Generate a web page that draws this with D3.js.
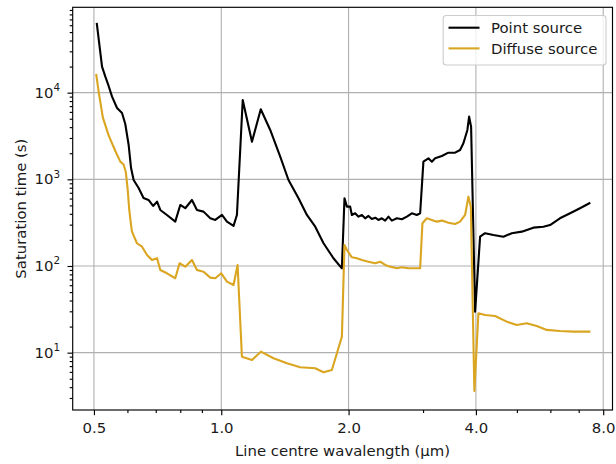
<!DOCTYPE html>
<html>
<head>
<meta charset="utf-8">
<script src="https://cdn.jsdelivr.net/npm/d3@7"></script>
<style>
  html, body { margin: 0; padding: 0; background: #fff; }
  svg { display: block; font-family: "DejaVu Sans", sans-serif; }
</style>
</head>
<body>
<svg id="chart" width="616" height="464"></svg>
<script>
// Line centre wavelength (µm) and saturation time (s) for each source type
const pointWavelength = [0.508, 0.5225, 0.532, 0.5416, 0.5518, 0.567, 0.5826, 0.593, 0.604, 0.612,
  0.6206, 0.6377, 0.655, 0.673, 0.690, 0.705, 0.7176, 0.744, 0.7785, 0.800,
  0.822, 0.8526, 0.876, 0.908, 0.942, 0.968, 1.004, 1.0315, 1.069, 1.089,
  1.124, 1.182, 1.240, 1.3055, 1.3785, 1.442, 1.523, 1.594, 1.668, 1.745,
  1.842, 1.9285, 1.956, 1.982, 2.0175, 2.036, 2.073, 2.111, 2.150, 2.189,
  2.229, 2.270, 2.312, 2.353, 2.397, 2.441, 2.485, 2.531, 2.601, 2.673,
  2.747, 2.822, 2.900, 2.953, 3.006, 3.089, 3.147, 3.204, 3.323, 3.444,
  3.572, 3.670, 3.737, 3.819, 3.855, 3.897, 3.983, 4.0925, 4.205, 4.400,
  4.646, 4.863, 5.135, 5.469, 5.775, 5.99, 6.32, 6.68, 7.05, 7.42];
const pointTime = [62000, 20000, 15300, 11950, 8990, 6660, 5830, 4350, 2490, 1350,
  983, 795, 610, 578, 493, 553, 443, 388, 325, 506,
  464, 578, 443, 424, 355, 340, 388, 325, 290, 388,
  8240, 2720, 6430, 3710, 1830, 983, 605, 388, 284, 183,
  123, 94, 605, 484, 484, 388, 406, 371, 388, 355,
  378, 349, 361, 340, 355, 334, 371, 334, 355, 346,
  371, 406, 388, 406, 1600, 1750, 1600, 1750, 1860, 2030,
  2030, 2180, 2610, 3710, 5290, 4050, 29.7, 218, 239, 228,
  218, 239, 249, 277, 284, 297, 355, 406, 464, 530];

const diffuseWavelength = [0.5065, 0.513, 0.5248, 0.5416, 0.5617, 0.5772, 0.5876, 0.5947, 0.601, 0.606,
  0.612, 0.615, 0.632, 0.6496, 0.6675, 0.6859, 0.705, 0.7176, 0.744, 0.7785,
  0.797, 0.822, 0.8526, 0.876, 0.908, 0.942, 0.968, 1.0, 1.0315, 1.069,
  1.093, 1.119, 1.182, 1.241, 1.329, 1.430, 1.537, 1.668, 1.745, 1.826,
  1.877, 1.9285, 1.956, 1.982, 2.036, 2.092, 2.150, 2.229, 2.312, 2.375,
  2.441, 2.508, 2.601, 2.673, 2.771, 2.874, 2.953, 2.990, 3.062, 3.147,
  3.234, 3.323, 3.444, 3.572, 3.670, 3.772, 3.840, 3.891, 3.967, 4.055,
  4.205, 4.441, 4.732, 4.997, 5.276, 5.572, 5.883, 6.32, 6.80, 7.42];
const diffuseTime = [16000, 10270, 5180, 3210, 2125, 1600, 1485, 1216, 754, 443,
  297, 249, 183, 167, 134, 117, 123, 90, 82.4, 72.2,
  107.5, 98.3, 117, 90, 86, 73.4, 72.2, 82.4, 66, 60.4,
  102.8, 9.0, 8.24, 10.27, 8.62, 7.55, 6.79, 6.61, 5.94, 6.32,
  9.84, 15.3, 175, 153, 126, 123, 117, 112, 107.5, 112,
  102.8, 98.3, 94.2, 96.7, 94.2, 94.2, 94.2, 311, 355, 340,
  325, 334, 316, 305, 325, 388, 631, 484, 3.61, 28.5,
  27.2, 26.5, 22.8, 20.9, 21.8, 20.3, 18.3, 17.8, 17.5, 17.5];

const xMajorTicks = [0.5, 1.0, 2.0, 4.0, 8.0];
const xMinorTicks = [0.6, 0.7, 0.8, 0.9, 3, 5, 6, 7];
const yMajorTicks = [10, 100, 1000, 10000];
const seriesNames = ["Point source", "Diffuse source"];
const seriesColors = ["#000000", "#daa520"];

const svg = d3.select("#chart");
const plotLeft = 72.7, plotRight = 612.5, plotTop = 7.3, plotBottom = 410;
const fontSize = 14.9;
const textColor = "#1a1a1a";

const x = d3.scaleLog().domain([0.4454, 8.415]).range([plotLeft, plotRight]);
const y = d3.scaleLog().domain([2.18, 96600]).range([plotBottom, plotTop]);

// minor y ticks at 2..9 × each decade inside the domain
const yMinorTicks = [];
for (let e = 0; e <= 4; e++) {
  for (let m = 2; m <= 9; m++) {
    const v = m * Math.pow(10, e);
    if (v >= y.domain()[0] && v <= y.domain()[1]) yMinorTicks.push(v);
  }
}

// grid lines at major ticks
const grid = svg.append("g").attr("stroke", "#b0b0b0").attr("stroke-width", 1.1);
grid.selectAll("line.gx").data(xMajorTicks).join("line")
  .attr("x1", d => x(d)).attr("x2", d => x(d)).attr("y1", plotTop).attr("y2", plotBottom);
grid.selectAll("line.gy").data(yMajorTicks).join("line")
  .attr("y1", d => y(d)).attr("y2", d => y(d)).attr("x1", plotLeft).attr("x2", plotRight);

// data lines
const series = [
  { name: seriesNames[0], color: seriesColors[0], pts: pointWavelength.map((w, i) => [w, pointTime[i]]) },
  { name: seriesNames[1], color: seriesColors[1], pts: diffuseWavelength.map((w, i) => [w, diffuseTime[i]]) }
];
const line = d3.line().x(d => x(d[0])).y(d => y(d[1]));
svg.append("g").selectAll("path").data(series).join("path")
  .attr("d", d => line(d.pts))
  .attr("fill", "none")
  .attr("stroke", d => d.color)
  .attr("stroke-width", 2.1)
  .attr("stroke-linejoin", "round")
  .attr("stroke-linecap", "square");

// axes
function styleAxis(g) {
  g.select(".domain").remove();
  g.selectAll(".tick line").attr("stroke", "#000").attr("stroke-width", 1.15);
  g.selectAll(".tick text").attr("fill", textColor).attr("font-size", fontSize)
    .attr("font-family", "DejaVu Sans, sans-serif");
}
svg.append("g").attr("transform", `translate(0,${plotBottom})`)
  .call(d3.axisBottom(x).tickValues(xMajorTicks).tickFormat(d3.format(".1f")).tickSize(5.2).tickPadding(0))
  .call(styleAxis)
  .call(g => g.selectAll(".tick text").attr("y", 23.2).attr("dy", null));
svg.append("g").attr("transform", `translate(0,${plotBottom})`)
  .call(d3.axisBottom(x).tickValues(xMinorTicks).tickFormat("").tickSize(3))
  .call(styleAxis);

svg.append("g").attr("transform", `translate(${plotLeft},0)`)
  .call(d3.axisLeft(y).tickValues(yMajorTicks).tickFormat("").tickSize(5.2))
  .call(styleAxis);
svg.append("g").attr("transform", `translate(${plotLeft},0)`)
  .call(d3.axisLeft(y).tickValues(yMinorTicks).tickFormat("").tickSize(3))
  .call(styleAxis);

// y tick labels as 10 with a superscript exponent
const yLab = svg.append("g").selectAll("text").data(yMajorTicks).join("text")
  .attr("x", 60)
  .attr("y", d => y(d) + 4.9)
  .attr("text-anchor", "end")
  .attr("fill", textColor)
  .attr("font-size", fontSize);
yLab.append("tspan").text("10");
yLab.append("tspan")
  .attr("font-size", 10.4)
  .attr("dy", -6.6)
  .text(d => String(Math.round(Math.log10(d))));

// spines
svg.append("rect")
  .attr("x", plotLeft).attr("y", plotTop)
  .attr("width", plotRight - plotLeft).attr("height", plotBottom - plotTop)
  .attr("fill", "none").attr("stroke", "#000").attr("stroke-width", 1.15);

// axis titles
svg.append("text")
  .attr("x", (plotLeft + plotRight) / 2).attr("y", 456)
  .attr("text-anchor", "middle").attr("fill", textColor).attr("font-size", fontSize)
  .text("Line centre wavalength (µm)");
svg.append("text")
  .attr("transform", `translate(25.5,${(plotTop + plotBottom) / 2}) rotate(-90)`)
  .attr("text-anchor", "middle").attr("fill", textColor).attr("font-size", fontSize)
  .text("Saturation time (s)");

// legend
const lg = svg.append("g");
lg.append("rect")
  .attr("x", 443.2).attr("y", 15.5).attr("width", 162.8).attr("height", 49.5)
  .attr("rx", 3)
  .attr("fill", "#fff").attr("fill-opacity", 0.8)
  .attr("stroke", "#cccccc").attr("stroke-width", 1.1);
const rows = lg.selectAll("g.row").data(series).join("g")
  .attr("transform", (d, i) => `translate(0,${27.7 + i * 20.7})`);
rows.append("line")
  .attr("x1", 448.5).attr("x2", 479.5).attr("y1", 0).attr("y2", 0)
  .attr("stroke", d => d.color).attr("stroke-width", 2.1);
rows.append("text")
  .attr("x", 491).attr("y", 5.3)
  .attr("fill", textColor).attr("font-size", fontSize)
  .text(d => d.name);
</script>
</body>
</html>
